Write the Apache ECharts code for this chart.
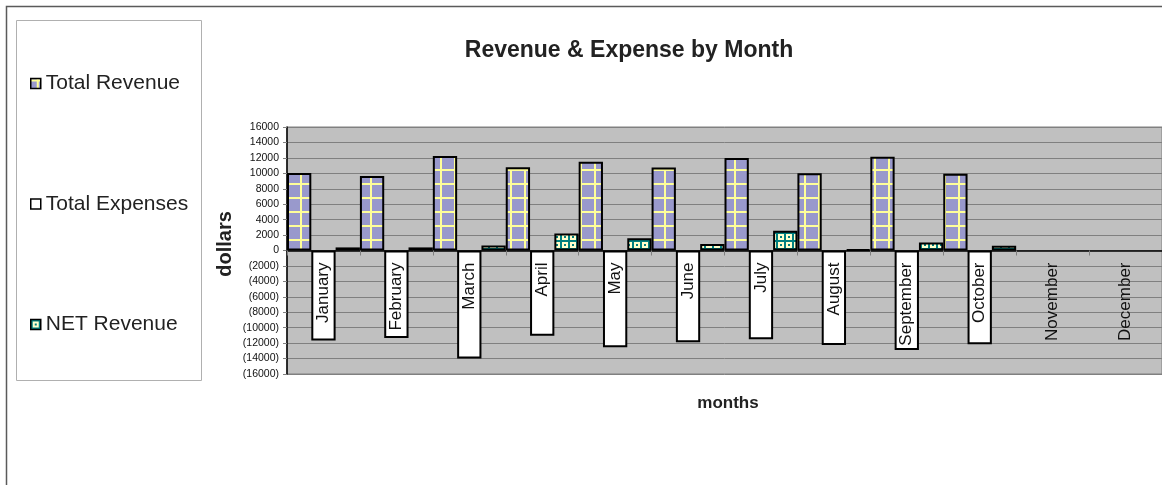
<!DOCTYPE html>
<html>
<head>
<meta charset="utf-8">
<script src="https://cdn.jsdelivr.net/npm/echarts@6/dist/echarts.min.js"></script>
<style>
  html, body { margin: 0; padding: 0; background: #fff; }
  #chart { width: 1162px; height: 485px; }
</style>
</head>
<body>
<div id="chart"></div>
<script>
// data
var months = ['January', 'February', 'March', 'April', 'May', 'June', 'July', 'August', 'September', 'October', 'November', 'December'];
var totalRevenue = [10050, 9650, 12250, 10800, 11500, 10750, 12000, 10000, 12150, 9950, '-', '-'];
var totalExpenses = [-11650, -11350, -14000, -11050, -12550, -11900, -11500, -12250, -12900, -12150, '-', '-'];
var netRevenue = [400, 400, 650, 2200, 1600, 850, 2550, 150, 1050, 600, '-', '-'];
var yMin = -16000, yMax = 16000, yStep = 2000;

// fill patterns (excel style)
function revTile() {
  var c = document.createElement('canvas');
  c.width = 14; c.height = 14;
  var ctx = c.getContext('2d');
  ctx.fillStyle = '#9999cc';
  ctx.fillRect(0, 0, 14, 14);
  ctx.fillStyle = '#ffff99';
  ctx.fillRect(6, 0, 2, 14);  //竖线
  ctx.fillRect(0, 1, 14, 2);  //横线
  return c;
}
function netTile() {
  var c = document.createElement('canvas');
  c.width = 8; c.height = 8;
  var ctx = c.getContext('2d');
  ctx.fillStyle = '#ffffcc';
  ctx.fillRect(0, 0, 8, 8);
  ctx.fillStyle = '#008080';
  ctx.fillRect(0, 0, 8, 2);
  ctx.fillRect(0, 0, 2, 8);
  ctx.fillRect(4, 4, 2, 2);
  return c;
}

var myChart = echarts.init(document.getElementById('chart'));
var barBorder = { borderColor: '#000', borderWidth: 2 };

var option = {
  backgroundColor: '#fff',
  animation: false,
  textStyle: { fontFamily: 'Liberation Sans, Arial, sans-serif' },
  graphic: [
    { type: 'polyline', shape: { points: [[6.5, 485], [6.5, 6.5], [1162, 6.5]] },
      style: { stroke: '#5a5a5a', lineWidth: 1.5, fill: null } },
    { type: 'rect', shape: { x: 16.5, y: 20.5, width: 185, height: 360 },
      style: { stroke: '#b0b0b0', lineWidth: 1, fill: '#fff' }, z: -1 },
    { type: 'text', x: 629, y: 51,
      style: { text: 'Revenue & Expense by Month', font: 'bold 23px "Liberation Sans", Arial', fill: '#222',
               textAlign: 'center', textVerticalAlign: 'middle' } },
    { type: 'text', x: 225, y: 244, rotation: Math.PI / 2,
      style: { text: 'dollars', font: 'bold 20px "Liberation Sans", Arial', fill: '#222',
               textAlign: 'center', textVerticalAlign: 'middle' } },
    { type: 'text', x: 728, y: 403,
      style: { text: 'months', font: 'bold 17px "Liberation Sans", Arial', fill: '#222',
               textAlign: 'center', textVerticalAlign: 'middle' } }
  ],
  legend: {
    orient: 'vertical',
    left: 25,
    top: 68,
    itemWidth: 10,
    itemHeight: 10,
    itemGap: 99.5,
    icon: 'rect',
    itemStyle: { borderWidth: 1.5 },
    textStyle: { fontSize: 21, color: '#222', lineHeight: 20 },
    data: ['Total Revenue', 'Total Expenses', 'NET Revenue']
  },
  grid: [
    {
      left: 287, right: -5, top: 127, bottom: 111,
      show: true, backgroundColor: '#c0c0c0', borderColor: '#808080', borderWidth: 1
    },
    // upper half only, so its bottom edge is the zero line -> month labels sit under zero
    { left: 287, right: -5, top: 127, height: 124.5, show: false }
  ],
  xAxis: [
    {
      type: 'category',
      data: months,
      z: 10,
      axisLine: { onZero: true, lineStyle: { color: '#000', width: 1.5 } },
      axisTick: { show: true, interval: 0, length: 5, lineStyle: { color: '#808080' } },
      axisLabel: { show: false },
      splitLine: { show: false }
    },
    {
      type: 'category',
      gridIndex: 1,
      data: months,
      z: 10,
      axisLine: { show: false },
      axisTick: { show: false },
      axisLabel: { rotate: 90, interval: 0, margin: 11, fontSize: 17, color: '#111' },
      splitLine: { show: false }
    }
  ],
  yAxis: [
    {
      type: 'value',
      min: yMin,
      max: yMax,
      interval: yStep,
      axisLine: { show: true, lineStyle: { color: '#000', width: 1.5 } },
      axisTick: { show: true, length: 4, lineStyle: { color: '#808080' } },
      axisLabel: {
        fontSize: 10.5, color: '#111', margin: 8,
        formatter: function (v) { return v < 0 ? '(' + Math.abs(v) + ')' : String(v); }
      },
      splitLine: { lineStyle: { color: '#808080', width: 1 } }
    },
    {
      type: 'value', gridIndex: 1, show: false,
      splitLine: { show: false }
    }
  ],
  series: [
    {
      name: 'Total Revenue', type: 'bar', data: totalRevenue,
      barGap: '0%', barCategoryGap: '0%',
      itemStyle: Object.assign({ color: { image: revTile(), repeat: 'repeat' } }, barBorder)
    },
    {
      name: 'Total Expenses', type: 'bar', data: totalExpenses,
      itemStyle: Object.assign({ color: '#ffffff' }, barBorder)
    },
    {
      name: 'NET Revenue', type: 'bar', data: netRevenue,
      itemStyle: Object.assign({ color: { image: netTile(), repeat: 'repeat' } }, barBorder)
    }
  ]
};

myChart.setOption(option);
</script>
</body>
</html>
